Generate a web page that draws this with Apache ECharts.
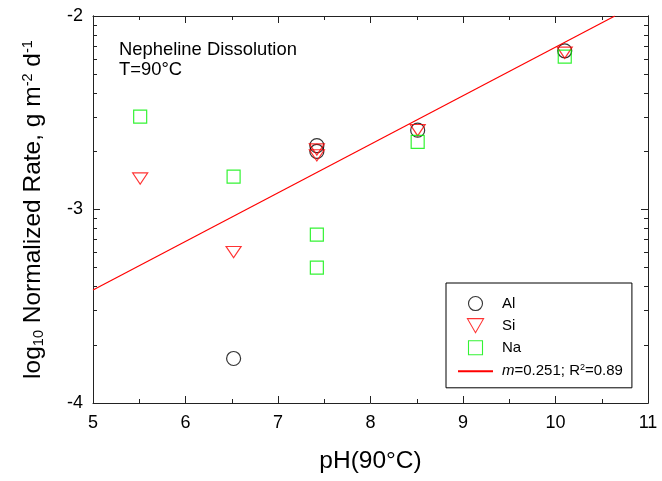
<!DOCTYPE html>
<html>
<head>
<meta charset="utf-8">
<title>Nepheline Dissolution</title>
<script src="https://cdn.jsdelivr.net/npm/echarts@6/dist/echarts.min.js"></script>
<style>
  html, body { margin: 0; padding: 0; background: #fff; }
  #chart { width: 662px; height: 481px; }
</style>
</head>
<body>
<div id="chart"></div>
<script>
// pH at 90 °C and log10 of the normalized release rate (g m^-2 d^-1) per element
const phAl = [6.52, 7.42, 7.42, 8.51, 10.10];
const logAl = [-3.77, -2.67, -2.70, -2.59, -2.18];

const phSi = [5.51, 6.52, 7.42, 7.42, 8.51, 10.10];
const logSi = [-2.84, -3.22, -2.69, -2.72, -2.59, -2.19];

const phNa = [5.51, 6.52, 7.42, 7.42, 8.51, 10.10];
const logNa = [-2.52, -2.83, -3.13, -3.30, -2.65, -2.21];

// Linear fit of log rate against pH
const fitSlope = 0.251;
const fitIntercept = -4.671;
const fitR2 = 0.89;

// Axis ranges and tick labels
const xRange = [5, 11];
const yRange = [-4, -2];
const yTickLabels = ['-4', '-3', '-2'];

// Minor ticks of the log scale: log10(k * 10^n) for k = 2..9
const yMinorTicks = [];
for (let dec = yRange[0]; dec < yRange[1]; dec++) {
  for (let k = 2; k <= 9; k++) yMinorTicks.push(dec + Math.log10(k));
}

// Fit line from the left edge to where it leaves the top of the plot
const fitX0 = xRange[0];
const fitX1 = Math.min(xRange[1], (yRange[1] - fitIntercept) / fitSlope);
const fitLine = [
  [fitX0, fitIntercept + fitSlope * fitX0],
  [fitX1, fitIntercept + fitSlope * fitX1]
];

const zip = (xs, ys) => xs.map((x, i) => [x, ys[i]]);

const FONT = '"Liberation Sans", Arial, sans-serif';
const AXIS_COLOR = '#222';
const GREEN = '#00f000';
const RED = '#ff0000';
const TITLE_SIZE = 24.5;

// Open marker outlines
const TRI_DOWN = 'path://M0,0L15,0L7.5,13Z';
const SQUARE = 'path://M0,0L13,0L13,13L0,13Z';

function xAxisDef(pos, labels) {
  return {
    type: 'value', position: pos, min: xRange[0], max: xRange[1], interval: 1,
    axisLine: { show: true, onZero: false, lineStyle: { color: AXIS_COLOR, width: 1 } },
    axisTick: { show: true, inside: true, length: 7, lineStyle: { color: AXIS_COLOR } },
    minorTick: { show: true, splitNumber: 2, length: 4, lineStyle: { color: AXIS_COLOR } },
    axisLabel: { show: labels, fontSize: 18, fontFamily: FONT, color: '#000', margin: 11 },
    splitLine: { show: false }, minorSplitLine: { show: false }
  };
}

function yAxisDef(pos, labels, minor) {
  return {
    type: 'value', position: pos, min: yRange[0], max: yRange[1], interval: 1,
    axisLine: { show: true, onZero: false, lineStyle: { color: AXIS_COLOR, width: 1 } },
    axisTick: minor
      ? { show: true, inside: true, length: 4, customValues: yMinorTicks, lineStyle: { color: AXIS_COLOR } }
      : { show: true, inside: true, length: 7, lineStyle: { color: AXIS_COLOR } },
    axisLabel: {
      show: labels, fontSize: 18, fontFamily: FONT, color: '#000', margin: 10,
      formatter: v => yTickLabels[Math.round(v - yRange[0])]
    },
    splitLine: { show: false }
  };
}

const yLeft = yAxisDef('left', true, false);
yLeft.name = '{t|log}{s|10}{t| Normalized Rate, g m}{p|-2}{t| d}{p|-1}';
yLeft.nameLocation = 'middle';
yLeft.nameRotate = 90;
yLeft.nameGap = 44;
yLeft.nameTextStyle = {
  fontFamily: FONT, color: '#000', fontSize: TITLE_SIZE,
  rich: {
    t: { fontFamily: FONT, fontSize: TITLE_SIZE, lineHeight: 32, verticalAlign: 'middle' },
    s: { fontFamily: FONT, fontSize: 14.5, lineHeight: 32, verticalAlign: 'bottom', padding: [0, 0, 3, 0] },
    p: { fontFamily: FONT, fontSize: 14.5, lineHeight: 32, verticalAlign: 'top', padding: [3, 0, 0, 0] }
  }
};

const xBottom = xAxisDef('bottom', true);
xBottom.name = 'pH(90°C)';
xBottom.nameLocation = 'middle';
xBottom.nameGap = 46;
xBottom.nameMoveOverlap = false;
xBottom.nameTextStyle = { fontFamily: FONT, color: '#000', fontSize: TITLE_SIZE, verticalAlign: 'top' };

const hollow = (c) => ({ color: 'rgba(0,0,0,0)', borderColor: c, borderWidth: 1.2 });

const chart = echarts.init(document.getElementById('chart'), null, { renderer: 'canvas' });
chart.setOption({
  animation: false,
  backgroundColor: '#fff',
  textStyle: { fontFamily: FONT },
  title: {
    text: 'Nepheline Dissolution\nT=90°C',
    left: 114, top: 35,
    textStyle: { fontFamily: FONT, fontSize: 18.4, fontWeight: 'normal', color: '#000', lineHeight: 20 }
  },
  grid: { left: 93, right: 14, top: 16, bottom: 78, containLabel: false },
  xAxis: [xBottom, xAxisDef('top', false)],
  yAxis: [yLeft, yAxisDef('left', false, true), yAxisDef('right', false, false), yAxisDef('right', false, true)],
  legend: {
    orient: 'vertical',
    left: 446, top: 283,
    padding: [13, 9, 9, 11],
    itemGap: 7,
    itemWidth: 35, itemHeight: 14,
    symbolKeepAspect: true,
    borderColor: '#000', borderWidth: 1,
    backgroundColor: '#fff',
    data: [
      { name: 'Al', itemStyle: { borderWidth: 1.1 } },
      { name: 'Si', itemStyle: { borderWidth: 1.1 } },
      { name: 'Na', itemStyle: { borderWidth: 1.1 } },
      { name: 'fit', itemStyle: { opacity: 0 } }
    ],
    textStyle: {
      fontFamily: FONT, fontSize: 15, color: '#000', padding: [0, 0, 0, 4],
      rich: {
        i: { fontFamily: FONT, fontSize: 15, fontStyle: 'italic', lineHeight: 18 },
        n: { fontFamily: FONT, fontSize: 15, lineHeight: 18 },
        sup: { fontFamily: FONT, fontSize: 9, lineHeight: 18, verticalAlign: 'top', padding: [1, 0, 0, 0] }
      }
    },
    formatter: name => name === 'fit'
      ? '{i|m}{n|=' + fitSlope.toFixed(3) + '; R}{sup|2}{n|=' + fitR2.toFixed(2) + '}'
      : name
  },
  series: [
    {
      name: 'Al', type: 'scatter', data: zip(phAl, logAl),
      symbol: 'circle', symbolSize: 14, symbolKeepAspect: true, itemStyle: hollow('#000'), z: 3
    },
    {
      name: 'Si', type: 'scatter', data: zip(phSi, logSi),
      symbol: TRI_DOWN, symbolSize: [15, 13], symbolKeepAspect: true, itemStyle: hollow(RED), z: 3
    },
    {
      name: 'Na', type: 'scatter', data: zip(phNa, logNa),
      symbol: SQUARE, symbolSize: 13, symbolKeepAspect: true, itemStyle: hollow(GREEN), z: 3
    },
    {
      name: 'fit', type: 'line', data: fitLine, symbol: 'none',
      lineStyle: { color: RED, width: 1.2 }, itemStyle: { color: RED }, z: 4
    }
  ]
});
</script>
</body>
</html>
